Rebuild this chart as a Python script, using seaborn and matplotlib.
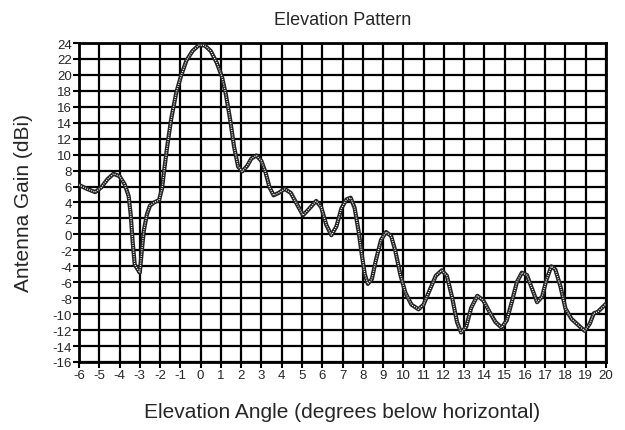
import matplotlib
matplotlib.use('Agg')
import matplotlib.pyplot as plt
import seaborn as sns
import pandas as pd
import numpy as np

# elevation angle (deg below horizontal) and gain (dBi)
angle = [-6.0, -5.6, -5.2, -4.9, -4.6, -4.3, -4.0, -3.75, -3.55, -3.45, -3.35, -3.25,
         -3.1, -3.0, -2.9, -2.8, -2.65, -2.5, -2.3, -2.05, -1.9, -1.8, -1.65, -1.45,
         -1.2, -0.95, -0.7, -0.4, -0.1, 0.2, 0.5, 0.8, 1.05, 1.25, 1.45, 1.65, 1.85,
         2.05, 2.3, 2.5, 2.75, 3.0, 3.2, 3.4, 3.6, 3.85, 4.15, 4.45, 4.75, 5.05, 5.35,
         5.7, 5.95, 6.2, 6.45, 6.7, 6.95, 7.2, 7.4, 7.6, 7.8, 7.95, 8.1, 8.25, 8.45,
         8.65, 8.9, 9.15, 9.4, 9.6, 9.85, 10.1, 10.4, 10.75, 11.0, 11.3, 11.6, 11.9,
         12.15, 12.4, 12.65, 12.85, 13.1, 13.35, 13.65, 13.95, 14.25, 14.55, 14.85,
         15.1, 15.35, 15.6, 15.85, 16.1, 16.35, 16.6, 16.85, 17.05, 17.3, 17.5, 17.75,
         18.0, 18.3, 18.6, 18.95, 19.2, 19.4, 19.6, 19.8, 20.0]
gain = [6.2, 5.7, 5.3, 5.9, 6.9, 7.6, 7.3, 6.3, 4.8, 2.5, -1.0, -3.8,
        -4.4, -4.8, -2.0, 0.5, 2.5, 3.6, 4.0, 4.3, 5.8, 8.0, 11.0, 14.5,
        17.8, 20.0, 21.8, 23.0, 23.7, 23.7, 23.0, 21.5, 19.8, 17.5, 14.5, 11.0, 8.5,
        7.9, 8.6, 9.5, 9.9, 9.2, 7.8, 5.9, 4.9, 5.2, 5.7, 5.2, 3.8, 2.4, 3.2,
        4.2, 3.4, 1.2, -0.1, 1.0, 3.3, 4.4, 4.6, 3.3, 0.3, -2.5, -5.0, -6.2, -5.6,
        -3.2, -0.7, 0.3, -0.2, -2.0, -5.0, -7.3, -8.8, -9.4, -8.8, -7.0, -5.2, -4.5,
        -5.2, -7.8, -11.0, -12.3, -11.6, -9.2, -7.7, -8.3, -9.7, -11.0, -11.7,
        -10.8, -8.5, -6.0, -4.8, -5.1, -6.8, -8.5, -7.8, -5.8, -4.0, -4.4, -6.5,
        -9.3, -10.6, -11.3, -12.1, -11.2, -9.9, -9.7, -9.2, -8.7]

x_ticks = list(range(-6, 21))
y_ticks = list(range(-16, 25, 2))

df = pd.DataFrame({'angle': angle, 'gain': gain})

sns.set_style('white')
plt.rcParams['font.family'] = ['Liberation Sans', 'DejaVu Sans']
plt.rcParams['axes.unicode_minus'] = False

fig = plt.figure(figsize=(6.25, 4.31), dpi=100)
ax = fig.add_axes([0.1264, 0.1578, 0.8432, 0.7401])

# chain-looking trace: dark line with a white dotted core
sns.lineplot(data=df, x='angle', y='gain', ax=ax, color='#222222', linewidth=3.0,
             sort=False, zorder=3)
ax.plot(df['angle'], df['gain'], color='white', linewidth=0.9,
        linestyle=(0, (0.8, 1.0)), zorder=4)

ax.set_xlim(-6, 20)
ax.set_ylim(-16, 24)
ax.set_xticks(x_ticks)
ax.set_yticks(y_ticks)
ax.grid(True, color='black', linewidth=1.6)
ax.set_axisbelow(True)
for s in ax.spines.values():
    s.set_color('black')
    s.set_linewidth(2)
ax.tick_params(axis='both', which='major', direction='out', length=4, width=1.5,
               color='black', labelsize=9.5, pad=1, left=True, bottom=True)

ax.set_title('Elevation Pattern', fontsize=13, pad=14)
ax.set_xlabel('Elevation Angle (degrees below horizontal)', fontsize=15, labelpad=15)
ax.set_ylabel('Antenna Gain (dBi)', fontsize=15, labelpad=14)

plt.savefig('out.png', dpi=100)
